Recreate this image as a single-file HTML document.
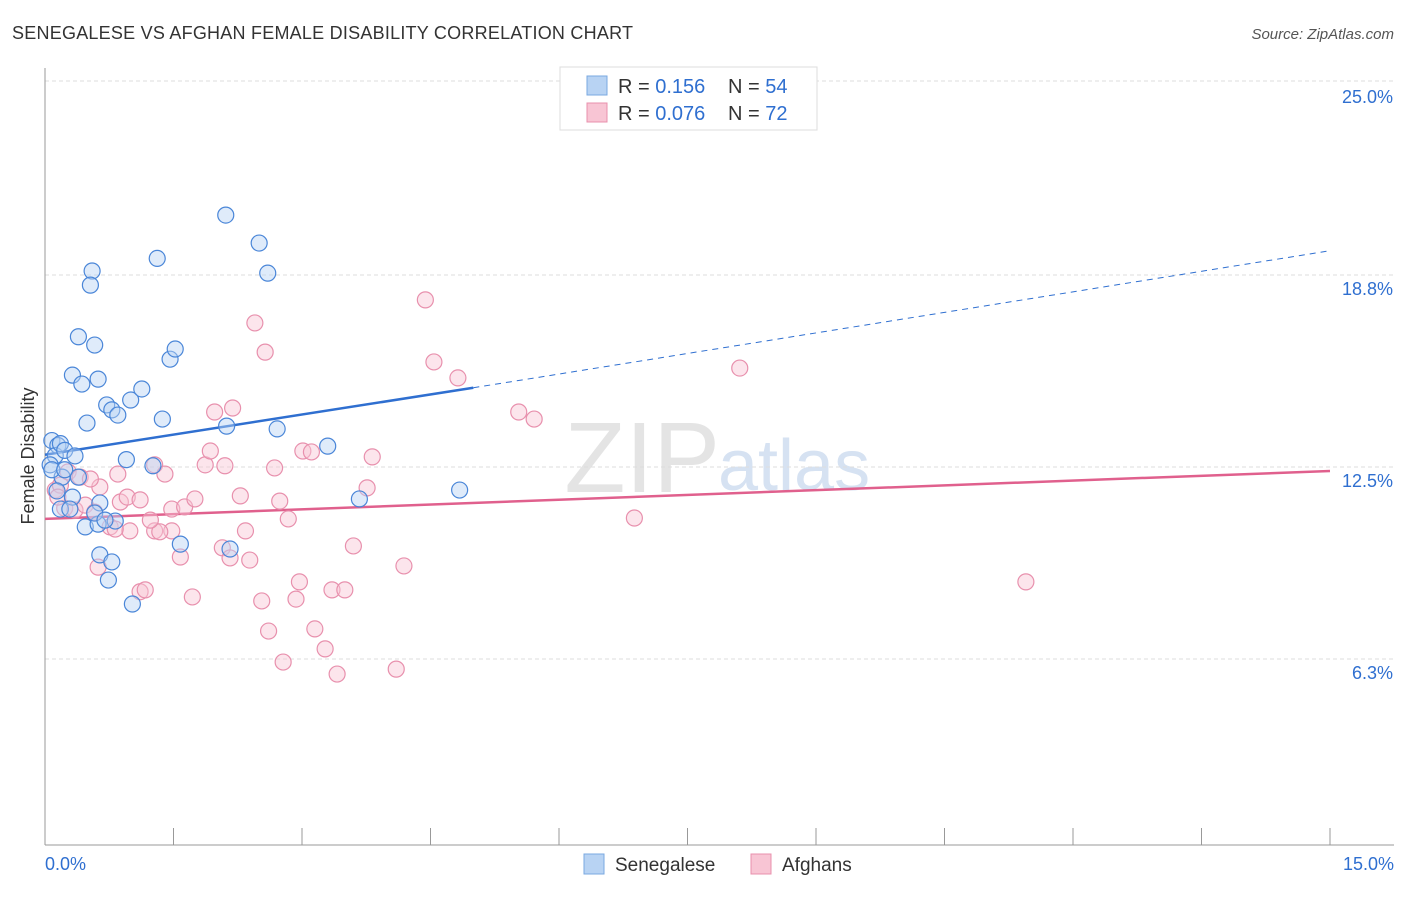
<!DOCTYPE html>
<html><head><meta charset="utf-8"><style>
body{margin:0;background:#fff;font-family:"Liberation Sans",sans-serif;}
svg text{font-family:"Liberation Sans",sans-serif;}
</style></head><body>
<svg id="chart" width="1406" height="892" xmlns="http://www.w3.org/2000/svg">
<text x="12" y="39" font-size="18" fill="#333" textLength="621">SENEGALESE VS AFGHAN FEMALE DISABILITY CORRELATION CHART</text>
<text x="1394" y="39" font-size="15" fill="#555" font-style="italic" text-anchor="end">Source: ZipAtlas.com</text>
<text x="720" y="492" font-size="100" fill="#e4e4e4" text-anchor="end" font-family="Liberation Serif">ZIP</text>
<text x="718" y="490" font-size="72" fill="#d6e2f2">atlas</text>
<g id="grid"></g>
<g id="axes"></g>
<g id="lines"></g>
<g id="pts"></g>
<text transform="translate(34,456) rotate(-90)" font-size="18" fill="#333" text-anchor="middle">Female Disability</text>
<g>
<rect x="560" y="67" width="257" height="63" fill="#fff" stroke="#ddd"/>
<rect x="587" y="76" width="20" height="19" fill="#b8d3f3" stroke="#7aa8e0"/>
<rect x="587" y="103" width="20" height="19" fill="#f8c5d4" stroke="#e890ad"/>
<text x="618" y="93" font-size="20" fill="#333">R = <tspan fill="#2f6fd0">0.156</tspan></text>
<text x="728" y="93" font-size="20" fill="#333">N = <tspan fill="#2f6fd0">54</tspan></text>
<text x="618" y="120" font-size="20" fill="#333">R = <tspan fill="#2f6fd0">0.076</tspan></text>
<text x="728" y="120" font-size="20" fill="#333">N = <tspan fill="#2f6fd0">72</tspan></text>
</g>
<g>
<rect x="584" y="854" width="20" height="20" fill="#b8d3f3" stroke="#7aa8e0"/>
<text x="615" y="871" font-size="19" fill="#333">Senegalese</text>
<rect x="751" y="854" width="20" height="20" fill="#f8c5d4" stroke="#e890ad"/>
<text x="782" y="871" font-size="19" fill="#333">Afghans</text>
</g>
</svg>
<script>
const yTicks=[25,18.75,12.5,6.25];
const yTickLabels=["25.0%","18.8%","12.5%","6.3%"];
const blueX=[0.08,0.15,0.12,0.18,0.06,0.23,0.35,0.2,0.39,0.32,0.18,0.29,0.47,0.64,0.78,0.74,1.02,0.64,0.62,0.82,0.39,0.58,0.32,0.43,0.62,0.49,0.72,0.78,0.85,1.0,1.13,0.95,1.26,1.37,1.46,1.52,1.31,0.55,0.53,2.11,2.5,2.6,2.12,2.71,3.3,3.67,4.84,1.58,2.16,0.58,0.08,0.23,0.14,0.7];
const blueY=[13.36,13.2,12.87,13.26,12.57,13.04,12.86,12.17,12.17,11.52,11.13,11.13,10.55,9.64,9.41,8.82,8.04,11.33,10.64,10.74,16.74,16.47,15.49,15.2,15.36,13.93,14.52,14.36,14.19,14.68,15.04,12.74,12.54,14.06,16.01,16.34,19.29,18.88,18.42,20.7,19.79,18.81,13.83,13.74,13.18,11.46,11.75,9.99,9.83,11.0,12.41,12.41,11.72,10.77];
const pinkX=[0.12,0.18,0.27,0.41,0.23,0.35,0.47,0.58,0.64,0.76,0.88,0.96,0.85,1.11,1.28,1.4,1.28,1.48,1.34,1.58,1.48,1.63,1.75,1.72,1.11,1.17,0.62,1.87,1.93,1.98,2.19,2.1,2.28,2.34,2.45,2.57,2.07,2.16,2.39,2.53,2.68,2.74,2.84,2.61,2.78,2.93,2.97,3.01,3.11,3.15,3.27,3.35,3.41,3.5,3.6,3.76,3.82,4.19,4.1,4.44,4.54,4.82,5.53,5.71,6.88,8.11,11.45,0.99,1.23,0.82,0.53,0.15];
const pinkY=[11.75,11.91,12.34,12.17,11.16,11.1,11.26,11.03,11.85,10.55,11.36,11.52,12.27,11.43,12.57,12.27,10.42,10.42,10.39,9.57,11.13,11.2,11.46,8.27,8.44,8.5,9.24,12.57,13.02,14.29,14.42,12.54,11.56,10.42,17.19,16.24,9.87,9.54,9.47,8.14,12.47,11.39,10.81,7.16,6.15,8.2,8.76,13.02,12.99,7.23,6.58,8.5,5.76,8.5,9.93,11.82,12.83,9.28,5.92,17.94,15.92,15.4,14.29,14.06,10.84,15.72,8.76,10.42,10.77,10.48,12.11,11.52];
const blueLine=[[0,12.9],[5,15.08],[15,19.54]];
const pinkLine=[[0,10.81],[15,12.37]];
const NS="http://www.w3.org/2000/svg";
const X0=45,X1=1330,Y0=851,PPY=768/25;
const sx=v=>X0+v/15*(X1-X0);
const sy=v=>Y0-v*PPY;
function mk(tag,attrs,parent){const e=document.createElementNS(NS,tag);for(const k in attrs)e.setAttribute(k,attrs[k]);parent.appendChild(e);return e;}
const grid=document.getElementById('grid'),axes=document.getElementById('axes'),lines=document.getElementById('lines'),pts=document.getElementById('pts');
yTicks.forEach((t,i)=>{
 const g=mk('line',{x1:45,y1:sy(t)-(i===0?2:0),x2:1394,y2:sy(t)-(i===0?2:0),stroke:'#ddd','stroke-dasharray':'4,3'},grid);
 
 
 const tx=mk('text',{x:1393,y:sy(t)+20,'font-size':18,fill:'#2f6fd0','text-anchor':'end'},axes);
 tx.textContent=yTickLabels[i];
 
 
});
mk('line',{x1:45,y1:68,x2:45,y2:845,stroke:'#999'},axes);
mk('line',{x1:45,y1:845,x2:1394,y2:845,stroke:'#999'},axes);
for(let i=0;i<=10;i++){const x=X0+i*(X1-X0)/10;mk('line',{x1:x,y1:828,x2:x,y2:845,stroke:'#999'},axes);}
const xl=mk('text',{x:45,y:870,'font-size':18,fill:'#2f6fd0'},axes);xl.textContent='0.0%';


const xr=mk('text',{x:1394,y:870,'font-size':18,fill:'#2f6fd0','text-anchor':'end'},axes);xr.textContent='15.0%';


function addPts(xs,ys,fill,stroke,name){xs.forEach((v,i)=>{const c=mk('circle',{cx:sx(v),cy:sy(ys[i]),r:8,fill:fill,'fill-opacity':0.45,stroke:stroke,'stroke-width':1.2},pts);
 
 });}
addPts(pinkX,pinkY,'#f8c5d4','#e890ad','afghan-point');
addPts(blueX,blueY,'#b8d3f3','#4a86d8','senegalese-point');
const bl1=mk('line',{x1:sx(blueLine[0][0]),y1:sy(blueLine[0][1]),x2:sx(blueLine[1][0]),y2:sy(blueLine[1][1]),stroke:'#2f6fd0','stroke-width':2.5},lines);


const bl2=mk('line',{x1:sx(blueLine[1][0]),y1:sy(blueLine[1][1]),x2:sx(blueLine[2][0]),y2:sy(blueLine[2][1]),stroke:'#2f6fd0','stroke-width':1,'stroke-dasharray':'6,5'},lines);


const pl=mk('line',{x1:sx(pinkLine[0][0]),y1:sy(pinkLine[0][1]),x2:sx(pinkLine[1][0]),y2:sy(pinkLine[1][1]),stroke:'#e0608d','stroke-width':2.5},lines);


</script>
</body></html>
